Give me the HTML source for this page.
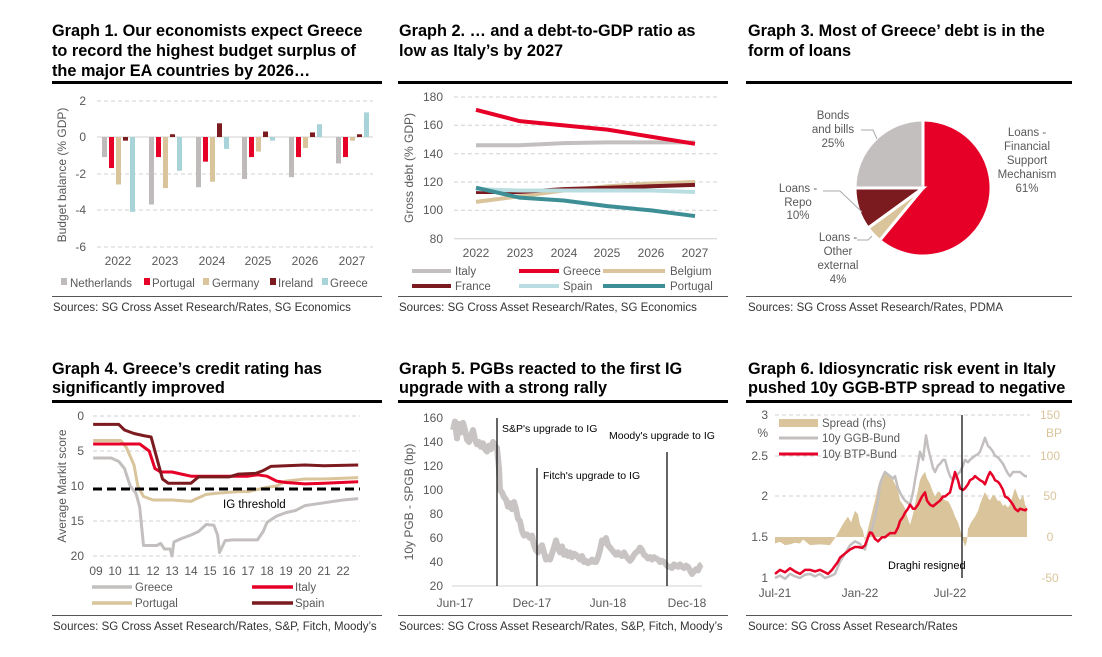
<!DOCTYPE html>
<html><head><meta charset="utf-8"><style>
html,body{margin:0;padding:0;background:#fff;}
svg{display:block;font-family:"Liberation Sans",sans-serif;}
.t{font-weight:bold;font-size:16.3px;fill:#000;}
.s{font-size:11.5px;fill:#333;}
.a{font-size:12px;fill:#595959;}
.l{font-size:11.5px;fill:#595959;}
.n{font-size:10.5px;fill:#000;}
.g{stroke:#d0d0d0;stroke-width:1;stroke-dasharray:4 3;}
</style></head><body>
<svg width="1102" height="657" viewBox="0 0 1102 657" xmlns="http://www.w3.org/2000/svg">
<rect width="1102" height="657" fill="#fff"/>
<!-- Titles -->
<text class="t" x="52" y="36">Graph 1. Our economists expect Greece</text>
<text class="t" x="52" y="56">to record the highest budget surplus of</text>
<text class="t" x="52" y="76">the major EA countries by 2026…</text>
<text class="t" x="399" y="36">Graph 2. … and a debt-to-GDP ratio as</text>
<text class="t" x="399" y="56">low as Italy’s by 2027</text>
<text class="t" x="748" y="36">Graph 3. Most of Greece’ debt is in the</text>
<text class="t" x="748" y="56">form of loans</text>
<text class="t" x="52" y="374">Graph 4. Greece’s credit rating has</text>
<text class="t" x="52" y="393">significantly improved</text>
<text class="t" x="399" y="374">Graph 5. PGBs reacted to the first IG</text>
<text class="t" x="399" y="393">upgrade with a strong rally</text>
<text class="t" x="748" y="374">Graph 6. Idiosyncratic risk event in Italy</text>
<text class="t" x="748" y="393">pushed 10y GGB-BTP spread to negative</text>
<!-- rules -->
<g fill="#000">
<rect x="52" y="81" width="330" height="3"/><rect x="398" y="81" width="330" height="3"/><rect x="746" y="81" width="326" height="3"/>
<rect x="52" y="400" width="330" height="3"/><rect x="398" y="400" width="330" height="3"/><rect x="746" y="400" width="326" height="3"/>
</g>
<g fill="#555">
<rect x="52" y="296" width="330" height="1"/><rect x="398" y="296" width="330" height="1"/><rect x="746" y="296" width="326" height="1"/>
<rect x="52" y="615" width="330" height="1"/><rect x="398" y="615" width="330" height="1"/><rect x="746" y="615" width="326" height="1"/>
</g>
<text class="s" x="53" y="311">Sources: SG Cross Asset Research/Rates, SG Economics</text>
<text class="s" x="399" y="311">Sources: SG Cross Asset Research/Rates, SG Economics</text>
<text class="s" x="748" y="311">Sources: SG Cross Asset Research/Rates, PDMA</text>
<text class="s" x="53" y="630">Sources: SG Cross Asset Research/Rates, S&amp;P, Fitch, Moody’s</text>
<text class="s" x="399" y="630">Sources: SG Cross Asset Research/Rates, S&amp;P, Fitch, Moody’s</text>
<text class="s" x="748" y="630">Source: SG Cross Asset Research/Rates</text>

<!-- GRAPH 1 -->
<g class="g"><line x1="97" x2="373" y1="101" y2="101"/><line x1="97" x2="373" y1="174" y2="174"/><line x1="97" x2="373" y1="210" y2="210"/><line x1="97" x2="373" y1="247" y2="247"/></g>
<line x1="97" x2="373" y1="137" y2="137" stroke="#d0d0d0"/>
<g class="a" text-anchor="end"><text x="86" y="105">2</text><text x="86" y="141">0</text><text x="86" y="178">-2</text><text x="86" y="214">-4</text><text x="86" y="251">-6</text></g>
<text class="a" transform="translate(66,175) rotate(-90)" text-anchor="middle">Budget balance (% GDP)</text>
<g class="a" text-anchor="middle"><text x="118" y="265">2022</text><text x="165" y="265">2023</text><text x="212" y="265">2024</text><text x="258" y="265">2025</text><text x="305" y="265">2026</text><text x="352" y="265">2027</text></g>
<g transform="translate(0,137) scale(1,-18.25)">
<g fill="#bfbbbb"><rect x="102" y="-1.1" width="5" height="1.1"/><rect x="149" y="-3.7" width="5" height="3.7"/><rect x="196" y="-2.75" width="5" height="2.75"/><rect x="242" y="-2.3" width="5" height="2.3"/><rect x="289" y="-2.2" width="5" height="2.2"/><rect x="336" y="-1.45" width="5" height="1.45"/></g>
<g fill="#e60028"><rect x="109" y="-1.7" width="5" height="1.7"/><rect x="156" y="-1.1" width="5" height="1.1"/><rect x="203" y="-1.35" width="5" height="1.35"/><rect x="249" y="-1.1" width="5" height="1.1"/><rect x="296" y="-1.1" width="5" height="1.1"/><rect x="343" y="-1.1" width="5" height="1.1"/></g>
<g fill="#d9c49b"><rect x="116" y="-2.6" width="5" height="2.6"/><rect x="163" y="-2.8" width="5" height="2.8"/><rect x="210" y="-2.45" width="5" height="2.45"/><rect x="256" y="-0.8" width="5" height="0.8"/><rect x="303" y="-0.6" width="5" height="0.6"/><rect x="350" y="-0.2" width="5" height="0.2"/></g>
<g fill="#7b1a1f"><rect x="123" y="-0.2" width="5" height="0.2"/><rect x="170" y="0" width="5" height="0.15"/><rect x="217" y="0" width="5" height="0.75"/><rect x="263" y="0" width="5" height="0.3"/><rect x="310" y="0" width="5" height="0.25"/><rect x="357" y="0" width="5" height="0.15"/></g>
<g fill="#a8d3d8"><rect x="130" y="-4.1" width="5" height="4.1"/><rect x="177" y="-1.85" width="5" height="1.85"/><rect x="224" y="-0.65" width="5" height="0.65"/><rect x="270" y="-0.2" width="5" height="0.2"/><rect x="317" y="0" width="5" height="0.7"/><rect x="364" y="0" width="5" height="1.35"/></g>
</g>
<g class="l">
<rect x="61" y="278" width="6" height="7" fill="#bfbbbb"/><text x="70" y="287">Netherlands</text>
<rect x="144" y="278" width="6" height="7" fill="#e60028"/><text x="152" y="287">Portugal</text>
<rect x="203" y="278" width="6" height="7" fill="#d9c49b"/><text x="212" y="287">Germany</text>
<rect x="270" y="278" width="6" height="7" fill="#7b1a1f"/><text x="278" y="287">Ireland</text>
<rect x="322" y="278" width="6" height="7" fill="#a8d3d8"/><text x="330" y="287">Greece</text>
</g>

<!-- GRAPH 2 -->
<g class="g"><line x1="454" x2="717" y1="97" y2="97"/><line x1="454" x2="717" y1="125.3" y2="125.3"/><line x1="454" x2="717" y1="153.7" y2="153.7"/><line x1="454" x2="717" y1="182" y2="182"/><line x1="454" x2="717" y1="210.3" y2="210.3"/></g>
<line x1="454" x2="717" y1="238.7" y2="238.7" stroke="#d0d0d0"/>
<g class="a" text-anchor="end"><text x="443" y="101">180</text><text x="443" y="129">160</text><text x="443" y="158">140</text><text x="443" y="186">120</text><text x="443" y="214">100</text><text x="443" y="243">80</text></g>
<text class="a" transform="translate(413,168) rotate(-90)" text-anchor="middle">Gross debt (% GDP)</text>
<g class="a" text-anchor="middle"><text x="476" y="257">2022</text><text x="520" y="257">2023</text><text x="564" y="257">2024</text><text x="607" y="257">2025</text><text x="651" y="257">2026</text><text x="695" y="257">2027</text></g>
<g transform="translate(476,352.1) scale(43.8,-1.417)" fill="none" stroke-width="4" stroke-linejoin="round">
<polyline vector-effect="non-scaling-stroke" stroke="#c4bfbf" points="0,146 1,146 2,147.5 3,148 4,148 5,148"/>
<polyline vector-effect="non-scaling-stroke" stroke="#e60028" points="0,171 1,163 2,160 3,157 4,152 5,147"/>
<polyline vector-effect="non-scaling-stroke" stroke="#d9c49b" points="0,106 1,110 2,114 3,117 4,119 5,120"/>
<polyline vector-effect="non-scaling-stroke" stroke="#7b1a1f" points="0,113 1,113 2,115 3,116 4,117 5,118"/>
<polyline vector-effect="non-scaling-stroke" stroke="#b9dde0" points="0,115 1,114 2,114 3,114 4,114 5,113"/>
<polyline vector-effect="non-scaling-stroke" stroke="#3d8f95" points="0,116 1,109 2,107 3,103 4,100 5,96"/>
</g>
<g stroke-width="4">
<line x1="412" x2="451" y1="271" y2="271" stroke="#c4bfbf"/><line x1="519" x2="559" y1="271" y2="271" stroke="#e60028"/><line x1="603" x2="665" y1="271" y2="271" stroke="#d9c49b"/>
<line x1="412" x2="451" y1="286" y2="286" stroke="#7b1a1f"/><line x1="519" x2="559" y1="286" y2="286" stroke="#b9dde0"/><line x1="603" x2="665" y1="286" y2="286" stroke="#3d8f95"/>
</g>
<g class="l"><text x="455" y="275">Italy</text><text x="563" y="275">Greece</text><text x="670" y="275">Belgium</text><text x="455" y="290">France</text><text x="563" y="290">Spain</text><text x="670" y="290">Portugal</text></g>

<!-- GRAPH 3 -->
<g stroke="#fff" stroke-width="3">
<path d="M923,188 L923,120 A68,68 0 1 1 879.7,240.4 Z" fill="#e60028"/>
<path d="M923,188 L879.7,240.4 A68,68 0 0 1 868,228 Z" fill="#d9c49b"/>
<path d="M923,188 L868,228 A68,68 0 0 1 855,188 Z" fill="#7b1a1f"/>
<path d="M923,188 L855,188 A68,68 0 0 1 923,120 Z" fill="#c4bfbf"/>
</g>
<g stroke="#aaa" fill="none"><polyline points="861,130 873,130 877,139"/><polyline points="823,191 840,191 862,212"/><polyline points="857,240 868,240 872,236"/></g>
<g class="l" text-anchor="middle">
<text x="833" y="119">Bonds</text><text x="833" y="133">and bills</text><text x="833" y="147">25%</text>
<text x="1027" y="136">Loans -</text><text x="1027" y="150">Financial</text><text x="1027" y="164">Support</text><text x="1027" y="178">Mechanism</text><text x="1027" y="192">61%</text>
<text x="798" y="192">Loans -</text><text x="798" y="206">Repo</text><text x="798" y="219">10%</text>
<text x="838" y="241">Loans -</text><text x="838" y="255">Other</text><text x="838" y="269">external</text><text x="838" y="283">4%</text>
</g>

<!-- GRAPH 4 -->
<g class="g"><line x1="93" x2="360" y1="416" y2="416"/><line x1="93" x2="360" y1="451" y2="451"/><line x1="93" x2="360" y1="521" y2="521"/><line x1="93" x2="360" y1="556" y2="556"/></g>
<g class="a" text-anchor="end"><text x="84" y="420">0</text><text x="84" y="455">5</text><text x="84" y="490">10</text><text x="84" y="525">15</text><text x="84" y="560">20</text></g>
<text class="a" transform="translate(66,486) rotate(-90)" text-anchor="middle">Average Markit score</text>
<g class="a" text-anchor="middle"><text x="96" y="575">09</text><text x="115" y="575">10</text><text x="134" y="575">11</text><text x="153" y="575">12</text><text x="172" y="575">13</text><text x="191" y="575">14</text><text x="210" y="575">15</text><text x="229" y="575">16</text><text x="248" y="575">17</text><text x="267" y="575">18</text><text x="286" y="575">19</text><text x="305" y="575">20</text><text x="324" y="575">21</text><text x="343" y="575">22</text></g>
<g transform="translate(96,416) scale(19,7)" fill="none" stroke-width="3" stroke-linejoin="round">
<polyline vector-effect="non-scaling-stroke" stroke="#c4bfbf" points="-0.15,6 0.8,6 1.2,6.5 1.5,7.5 1.8,10 2.1,11 2.3,13 2.5,18.5 3.2,18.5 3.4,18.2 3.6,19 3.9,19 4,20 4.1,18 4.5,17.5 5,17 5.4,16.5 5.8,15.5 6.2,15.6 6.4,17 6.5,19.5 6.8,17.8 7.2,17.7 8.5,17.7 8.8,16.5 9,15.2 9.5,14.3 10,13.8 10.5,13.5 11,12.8 11.5,12.6 12,12.4 12.5,12.2 13,12 13.8,11.8"/>
<polyline vector-effect="non-scaling-stroke" stroke="#d9c49b" points="-0.15,3.5 1.3,3.5 1.6,4.5 2,7 2.2,10 2.5,11.5 3,12 4,12 5,12.2 5.3,11.8 5.8,11.2 6.5,11 7.5,10.8 8,10.8 8.5,10.5 9,10.2 9.5,10 10,9.3 11,9 12,9 13.8,8.8"/>
<polyline vector-effect="non-scaling-stroke" stroke="#e60028" points="-0.15,4 2.3,4 2.8,5 3.1,7.5 3.4,8 4,8 4.5,8.3 5,8.6 6,8.6 7,8.6 8,8.6 8.5,8.4 9,8.6 9.5,9.3 10,9.5 11,9.7 12,9.6 13.8,9.4"/>
<polyline vector-effect="non-scaling-stroke" stroke="#7b1a1f" points="-0.15,1.2 1.2,1.2 1.5,2 2,2.5 2.5,2.8 2.9,3 3.1,5 3.3,7 3.5,9 3.8,9.6 5,9.6 5.4,8.7 7,8.7 7.5,8.3 8.4,8.2 8.8,7.8 9.2,7.2 10,7.1 11,7 12,7.1 13.8,7"/>
</g>
<line x1="93" x2="360" y1="489" y2="489" stroke="#000" stroke-width="3" stroke-dasharray="9 5"/>
<text class="n" x="223" y="508" style="font-size:11.5px">IG threshold</text>
<g stroke-width="3.5">
<line x1="92" x2="132" y1="587" y2="587" stroke="#c4bfbf"/><line x1="252" x2="293" y1="587" y2="587" stroke="#e60028"/>
<line x1="92" x2="132" y1="603" y2="603" stroke="#d9c49b"/><line x1="252" x2="293" y1="603" y2="603" stroke="#7b1a1f"/>
</g>
<g class="l"><text x="135" y="591">Greece</text><text x="295" y="591">Italy</text><text x="135" y="607">Portugal</text><text x="295" y="607">Spain</text></g>

<!-- GRAPH 5 -->
<line x1="452" x2="702" y1="586" y2="586" stroke="#d0d0d0"/>
<g class="a" text-anchor="end"><text x="443" y="422">160</text><text x="443" y="446">140</text><text x="443" y="470">120</text><text x="443" y="494">100</text><text x="443" y="518">80</text><text x="443" y="542">60</text><text x="443" y="566">40</text><text x="443" y="590">20</text></g>
<text class="a" transform="translate(413,502) rotate(-90)" text-anchor="middle">10y PGB - SPGB (bp)</text>
<g class="a" text-anchor="middle"><text x="455" y="607">Jun-17</text><text x="532" y="607">Dec-17</text><text x="608" y="607">Jun-18</text><text x="687" y="607">Dec-18</text></g>
<g transform="translate(0,610) scale(1,-1.2)" fill="none">
<polyline vector-effect="non-scaling-stroke" stroke="#c9c4c4" stroke-width="6" stroke-linejoin="round" points="453,150 455,157 457,143 459,155 461,148 463,156 465,150 467,142 469,140 471,145 473,150 475,142 477,138 479,140 481,136 483,139 485,134 487,132 489,137 491,134 493,140 495,137 497,135 499,118 500,100 502,98 504,94 506,92 508,86 510,89 512,84 514,90 516,84 518,76 520,74 522,66 524,62 527,63 530,60 532,62 534,54 536,50 538,48 540,52 542,54 544,48 546,42 548,44 550,42 552,47 554,52 556,58 558,52 560,48 562,53 564,46 566,49 568,45 570,48 572,44 574,47 576,46 578,44 580,42 582,45 584,40 586,41 588,39 590,40 592,42 594,40 596,40 598,44 600,50 602,58 604,56 606,60 608,54 610,52 612,50 614,48 616,46 618,48 620,46 622,45 624,48 626,45 628,43 630,41 632,43 634,46 636,48 638,49 640,52 642,50 644,46 646,45 648,43 650,44 652,42 654,44 656,43 658,42 660,40 662,41 664,40 666,38 668,36 670,36 672,35 674,38 676,37 678,36 680,38 682,36 684,35 686,37 688,36 690,33 692,30 694,32 696,34 698,33 700,37 702,38"/>
</g>
<g stroke="#000" stroke-width="1.2"><line x1="497" x2="497" y1="418" y2="586"/><line x1="537" x2="537" y1="468" y2="586"/><line x1="667" x2="667" y1="452" y2="586"/></g>
<g class="n"><text x="502" y="432">S&amp;P's upgrade to IG</text><text x="543" y="479">Fitch's upgrade to IG</text><text x="609" y="439">Moody's upgrade to IG</text></g>

<!-- GRAPH 6 -->
<g class="g"><line x1="775" x2="1030" y1="415" y2="415"/><line x1="775" x2="1030" y1="456" y2="456"/><line x1="775" x2="1030" y1="496" y2="496"/></g>
<g class="a" text-anchor="end"><text x="768" y="419">3</text><text x="768" y="437">%</text><text x="768" y="460">2.5</text><text x="768" y="500">2</text><text x="768" y="541">1.5</text><text x="768" y="582">1</text></g>
<g class="a" text-anchor="middle" style="fill:#d9c49b"><text x="1050" y="419">150</text><text x="1054" y="437">BP</text><text x="1050" y="460">100</text><text x="1050" y="500">50</text><text x="1050" y="541">0</text><text x="1050" y="582">-50</text></g>
<g class="a" text-anchor="middle"><text x="775" y="597">Jul-21</text><text x="860" y="597">Jan-22</text><text x="950" y="597">Jul-22</text></g>
<g transform="translate(0,537) scale(1,-0.815)">
<polygon fill="#d9c49b" points="775,0 775,-8 780,-6 785,-10 790,-9 795,-7 800,-8 803,-3 806,-6 810,-10 820,-9 830,-10 834,-3 838,5 842,14 845,20 848,25 851,18 855,32 858,28 860,15 863,8 865,-5 868,10 871,25 875,45 878,62 880,70 883,78 885,82 888,76 890,75 893,70 895,65 898,58 900,45 903,40 905,35 908,22 910,15 913,28 915,40 918,58 920,70 922,75 925,80 927,72 930,65 933,55 935,50 938,56 940,55 943,48 945,45 948,44 950,40 953,32 955,25 958,18 960,10 962,0 965,-12 967,-5 968,10 971,18 975,25 978,32 980,40 983,50 985,55 988,48 990,45 993,52 995,50 998,44 1000,45 1003,38 1005,40 1008,36 1010,40 1013,52 1015,60 1018,50 1020,45 1023,52 1025,40 1027,35 1027,0"/>
</g>
<g transform="translate(0,659.5) scale(1,-81.5)" fill="none" stroke-linejoin="round">
<polyline vector-effect="non-scaling-stroke" stroke="#c4bfbf" stroke-width="2.5" points="775,1.0 780,1.03 785,0.99 790,1.05 795,1.02 800,1.0 805,1.04 810,1.05 815,1.02 820,1.05 825,1.0 830,1.02 835,1.05 840,1.2 845,1.3 850,1.4 855,1.45 860,1.42 862,1.38 865,1.35 868,1.5 872,1.6 875,1.75 878,1.95 880,2.15 883,2.25 885,2.3 888,2.27 890,2.25 893,2.22 895,2.25 898,2.1 902,2.0 905,1.95 908,1.92 910,1.9 913,2.05 915,2.2 918,2.4 920,2.55 923,2.45 926,2.75 928,2.6 930,2.5 933,2.35 935,2.3 938,2.38 940,2.4 943,2.45 945,2.45 948,2.32 950,2.25 953,2.2 955,2.22 958,2.28 960,2.3 963,2.38 965,2.45 968,2.42 970,2.45 973,2.48 975,2.5 978,2.52 980,2.55 983,2.65 985,2.72 988,2.62 990,2.6 993,2.55 995,2.5 998,2.48 1000,2.45 1003,2.4 1005,2.35 1008,2.28 1010,2.25 1013,2.3 1015,2.3 1020,2.3 1025,2.25 1027,2.25"/>
<polyline vector-effect="non-scaling-stroke" stroke="#e60028" stroke-width="2.5" points="775,1.05 780,1.1 785,1.07 790,1.12 795,1.08 800,1.05 805,1.1 810,1.1 815,1.08 820,1.1 825,1.07 828,1.05 832,1.1 835,1.15 838,1.2 840,1.25 845,1.3 850,1.35 855,1.38 858,1.38 862,1.37 865,1.4 868,1.5 870,1.56 872,1.55 875,1.48 878,1.45 882,1.5 885,1.5 890,1.55 895,1.55 898,1.62 900,1.7 903,1.75 905,1.8 908,1.85 910,1.9 913,1.85 915,1.85 918,1.9 920,1.95 922,2.0 925,2.05 927,1.95 930,1.9 933,1.88 935,1.9 938,1.93 940,1.95 943,2.0 945,2.0 948,2.03 950,2.05 953,2.2 955,2.3 958,2.2 960,2.1 963,2.08 965,2.1 968,2.15 970,2.2 973,2.22 975,2.25 978,2.22 980,2.2 983,2.18 985,2.15 988,2.25 990,2.3 993,2.25 995,2.2 998,2.18 1000,2.15 1003,2.08 1005,2.0 1008,1.98 1010,1.95 1013,1.9 1015,1.85 1018,1.82 1020,1.85 1025,1.83 1027,1.85"/>
</g>
<line x1="962" x2="962" y1="415" y2="578" stroke="#000" stroke-width="1.2"/>
<text class="n" x="888" y="569" style="font-size:11px">Draghi resigned</text>
<rect x="779" y="419" width="39" height="8" fill="#d9c49b"/>
<line x1="779" x2="818" y1="438" y2="438" stroke="#c4bfbf" stroke-width="3"/>
<line x1="779" x2="818" y1="454" y2="454" stroke="#e60028" stroke-width="3"/>
<g class="l"><text x="822" y="427">Spread (rhs)</text><text x="822" y="442">10y GGB-Bund</text><text x="822" y="458">10y BTP-Bund</text></g>
</svg>
</body></html>
